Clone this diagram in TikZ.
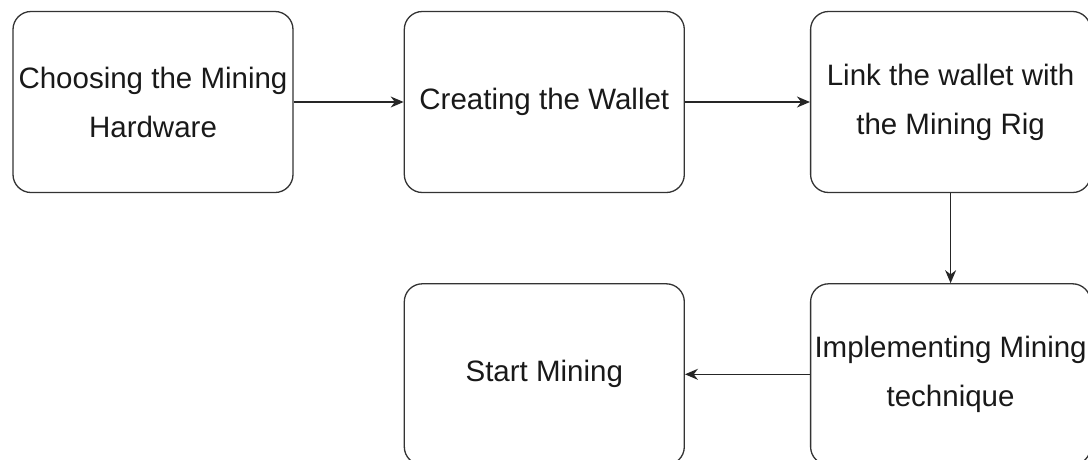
\documentclass[tikz,border=0pt]{standalone}
\usepackage{fontspec}
\setmainfont{Liberation Sans}
\usetikzlibrary{arrows.meta,positioning}
\begin{document}
\begin{tikzpicture}[
		node distance=110pt,
		block/.style={draw=black!80, line width=1.3pt, rounded corners=18pt, inner sep=0pt, minimum width=280pt, minimum height=181pt, align=center, text=black!90, font=\fontsize{29.5}{49}\selectfont},
		flow/.style={draw=black!85, line width=1.3pt, -{Stealth[length=13pt, width=11pt]}},
	]
		\path[use as bounding box] (0,0) rectangle (1088pt,-459pt);
		\node (hardware) [block] at (153pt,-102pt) {Choosing the Mining\\Hardware};
		\node (wallet) [block, right=of hardware] {Creating the Wallet};
		\node (link) [block, right=125pt of wallet] {Link the wallet with\\the Mining Rig};
		\node (technique) [block, below=90pt of link] {Implementing Mining\\technique};
		\node (start) [block] at (wallet |- technique) {Start Mining};
		
		\draw[flow] (hardware) -- (wallet);
		\draw[flow] (wallet) -- (link);
		\draw[flow] (link) -- (technique);
		\draw[flow] (technique) -- (start);
	\end{tikzpicture}
\end{document}
